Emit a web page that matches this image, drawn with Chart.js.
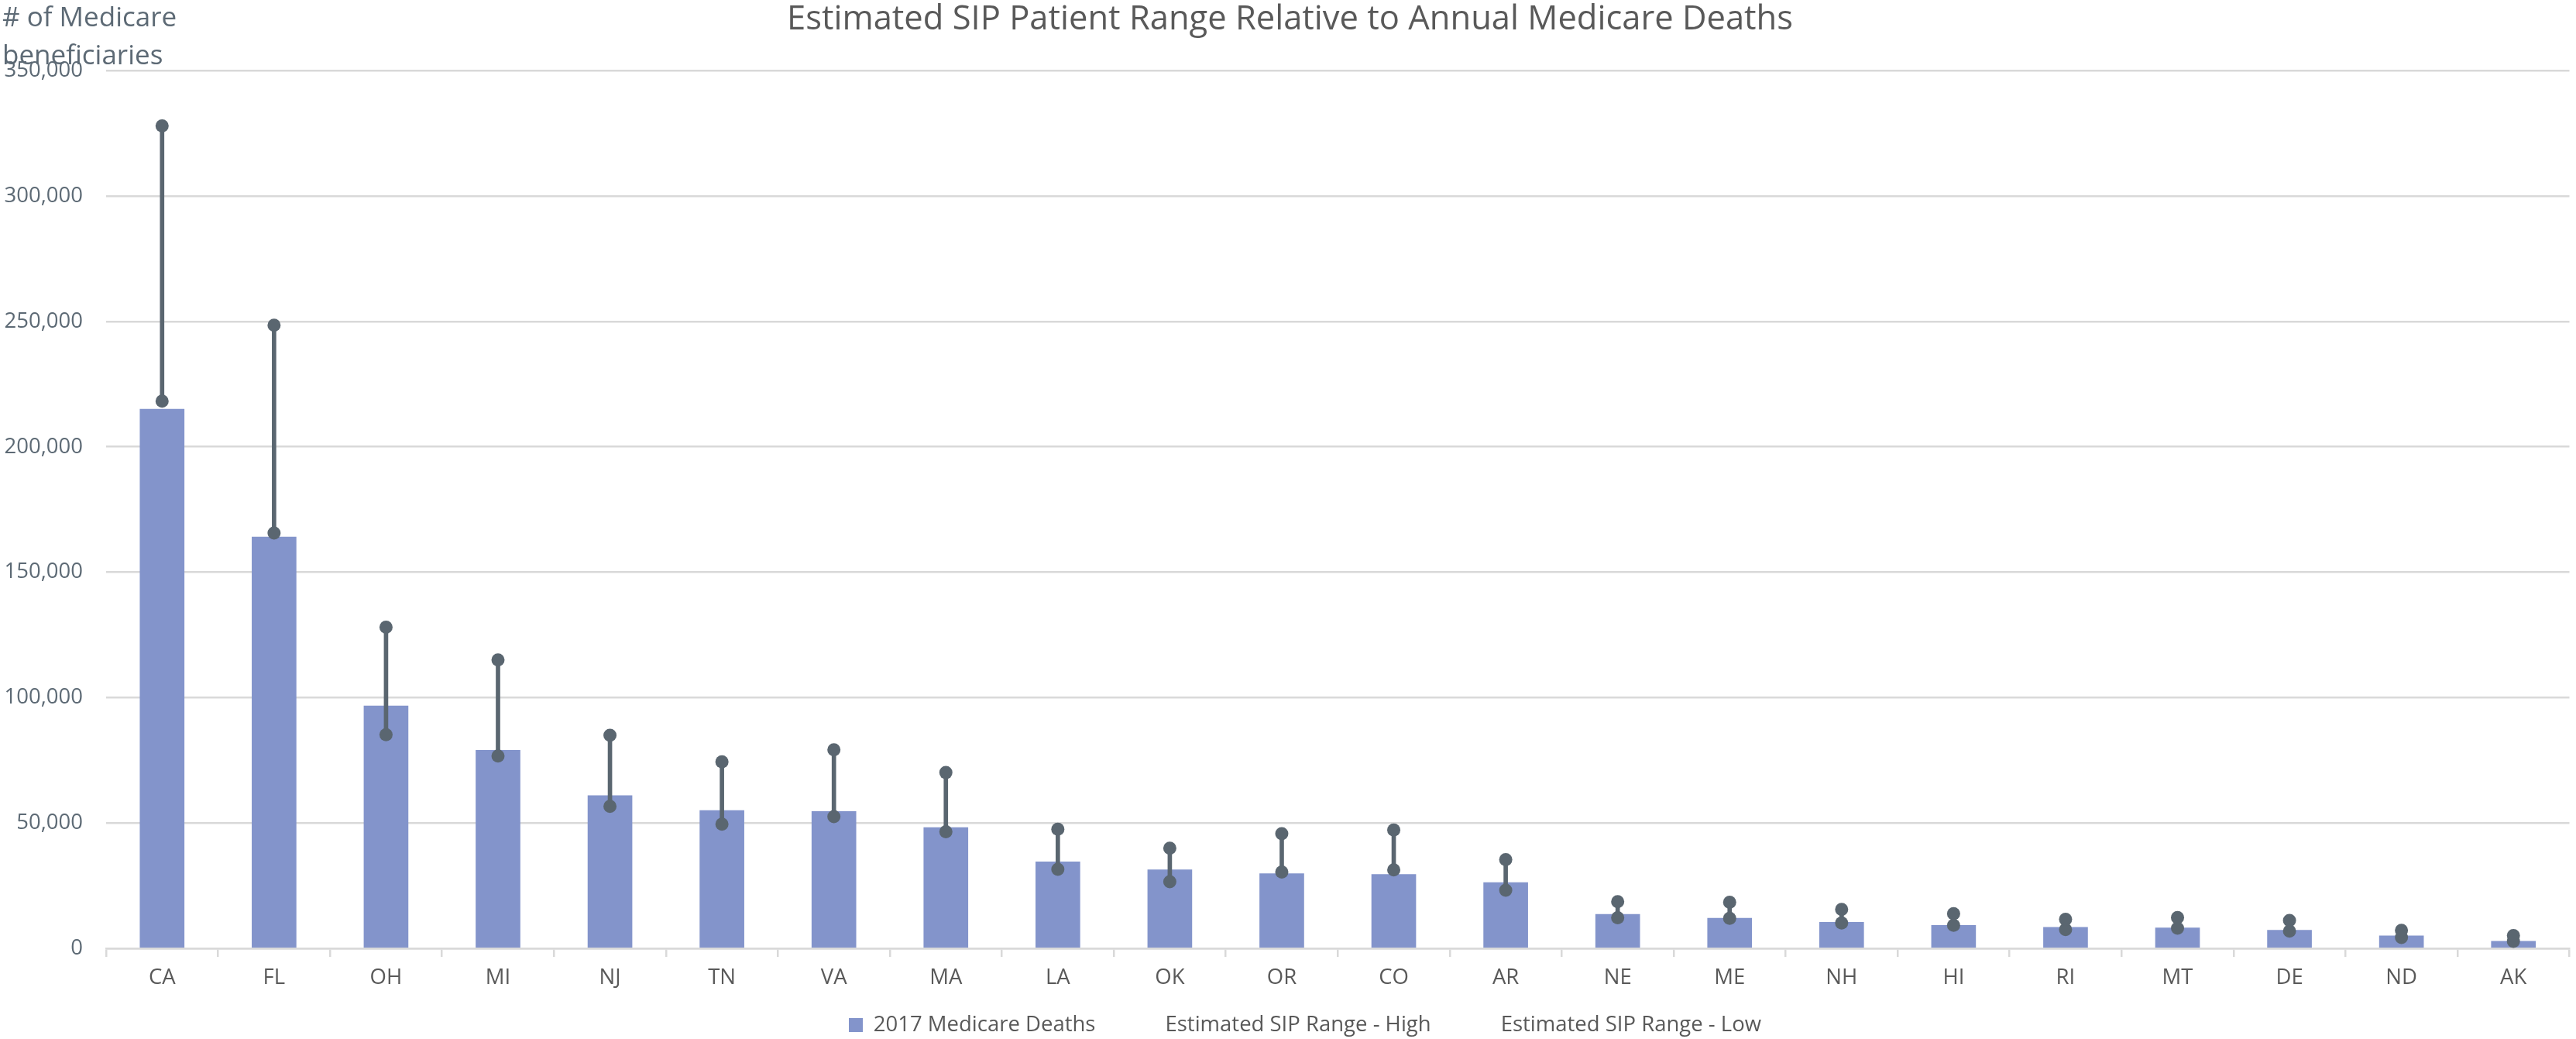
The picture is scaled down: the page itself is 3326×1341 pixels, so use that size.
<!DOCTYPE html>
<html>
<head>
<meta charset="utf-8">
<script src="https://cdn.jsdelivr.net/npm/chart.js@4.4.0/dist/chart.umd.min.js"></script>
<style>
html,body{margin:0;padding:0;background:#ffffff;}
#wrap{width:3326px;height:1341px;}
</style>
</head>
<body>
<div id="wrap"><canvas id="c" width="3326" height="1341"></canvas></div>
<script>
const categories = ['CA','FL','OH','MI','NJ','TN','VA','MA','LA','OK','OR','CO','AR','NE','ME','NH','HI','RI','MT','DE','ND','AK'];
const medicareDeaths = [215000,164000,96700,79000,60900,55000,54600,48200,34500,31300,29800,29500,26200,13600,12000,10400,9200,8400,8200,7200,5000,2800];
const sipHigh = [328000,248500,128100,115000,85000,74400,79200,70100,47500,39900,45700,47200,35400,18600,18400,15500,13800,11600,12300,11100,7200,5100];
const sipLow = [218200,165600,85200,76700,56600,49500,52500,46500,31500,26600,30400,31300,23200,12200,12000,10100,9200,7500,8000,6900,4300,2800];
const yTicks = [0,50000,100000,150000,200000,250000,300000,350000];
const titleText = 'Estimated SIP Patient Range Relative to Annual Medicare Deaths';
const yAxisTitle = ['# of Medicare', 'beneficiaries'];
const seriesNames = ['2017 Medicare Deaths','Estimated SIP Range - High','Estimated SIP Range - Low'];

const FONT = "'Open Sans', sans-serif";
const BAR = '#8394CB';
const DARK = '#5A6670';
const GRID = '#D9D9D9';
const TXT = '#595959';
const AXTXT = '#5D6A75';

const rangePairs = categories.map((c,i)=>[sipLow[i], sipHigh[i]]);

// legend swatches: reserve extra room before each entry like the original legend
const SW_W = 57, SW_H = 18;
function makeSwatch(color){
  const cv = document.createElement('canvas');
  cv.width = SW_W; cv.height = SW_H;
  if (color){
    const g = cv.getContext('2d');
    g.fillStyle = color;
    g.fillRect(SW_W - SW_H, 0, SW_H, SW_H);
  }
  return cv;
}
const swatchBar = makeSwatch(BAR);
const swatchBlank = makeSwatch(null);

const yTitlePlugin = {
  id:'yTitle',
  afterDraw(chart){
    const ctx = chart.ctx;
    ctx.save();
    ctx.font = "35px " + FONT;
    ctx.fillStyle = AXTXT;
    ctx.textBaseline = 'alphabetic';
    ctx.textAlign = 'left';
    ctx.fillText(yAxisTitle[0], 3, 34);
    ctx.fillText(yAxisTitle[1], 3, 83);
    ctx.restore();
  }
};

new Chart(document.getElementById('c'), {
  type:'bar',
  data:{
    labels:categories,
    datasets:[
      {type:'line', label:seriesNames[1], data:sipHigh, showLine:false, pointRadius:8.5, pointHoverRadius:8.5,
       pointBackgroundColor:DARK, pointBorderColor:DARK, pointBorderWidth:0, order:0},
      {type:'line', label:seriesNames[2], data:sipLow, showLine:false, pointRadius:8.5, pointHoverRadius:8.5,
       pointBackgroundColor:DARK, pointBorderColor:DARK, pointBorderWidth:0, order:0},
      {type:'bar', label:'range', data:rangePairs, backgroundColor:DARK, barThickness:5, grouped:false, order:1},
      {type:'bar', label:seriesNames[0], data:medicareDeaths, backgroundColor:BAR, barThickness:57, grouped:false, order:2}
    ]
  },
  options:{
    responsive:false,
    animation:false,
    devicePixelRatio:1,
    layout:{padding:{left:5,right:0,top:0,bottom:0}},
    plugins:{
      tooltip:{enabled:false},
      title:{display:true, text:titleText, color:TXT, font:{family:FONT, size:43.5, weight:'normal'}, padding:{top:0,bottom:39}},
      legend:{
        position:'bottom',
        maxHeight:51,
        labels:{
          font:{family:FONT, size:27.5},
          color:TXT,
          usePointStyle:true,
          pointStyleWidth:SW_W,
          boxHeight:SW_H,
          padding:19.25,
          generateLabels(chart){
            return [
              {text:seriesNames[0], pointStyle:swatchBar, fillStyle:BAR, strokeStyle:BAR, lineWidth:0, fontColor:TXT, datasetIndex:3, hidden:false},
              {text:seriesNames[1], pointStyle:swatchBlank, fillStyle:'rgba(0,0,0,0)', strokeStyle:'rgba(0,0,0,0)', lineWidth:0, fontColor:TXT, datasetIndex:0, hidden:false},
              {text:seriesNames[2], pointStyle:swatchBlank, fillStyle:'rgba(0,0,0,0)', strokeStyle:'rgba(0,0,0,0)', lineWidth:0, fontColor:TXT, datasetIndex:1, hidden:false}
            ];
          }
        }
      }
    },
    scales:{
      x:{
        offset:true,
        grid:{display:true, drawOnChartArea:false, drawTicks:true, tickLength:11, color:GRID, lineWidth:2.5, offset:true},
        border:{display:true, color:GRID, width:2.5},
        ticks:{color:TXT, font:{family:FONT, size:27.5}, padding:11, maxRotation:0, autoSkip:false}
      },
      y:{
        min:0, max:350000,
        afterBuildTicks(scale){ scale.ticks = yTicks.map(v=>({value:v})); },
        afterFit(scale){ scale.width = 132; },
        grid:{color:GRID, lineWidth:2.5, drawTicks:false, tickLength:0},
        border:{display:false},
        ticks:{color:AXTXT, font:{family:FONT, size:27.5}, padding:30,
          callback(v){ return Number(v).toLocaleString('en-US'); }}
      }
    }
  },
  plugins:[yTitlePlugin]
});
</script>
</body>
</html>
